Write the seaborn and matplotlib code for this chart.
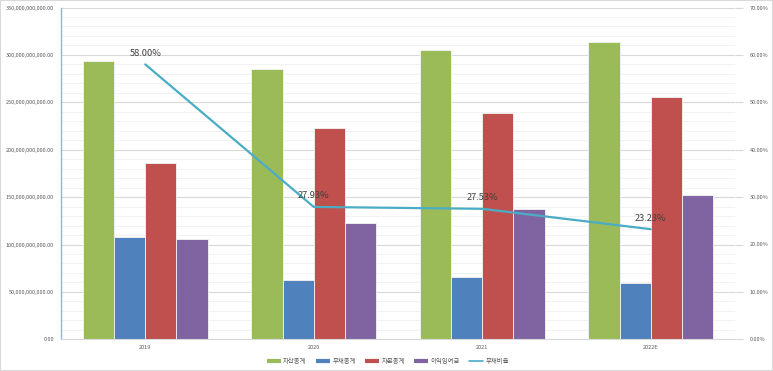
import pandas as pd
import matplotlib.pyplot as plt
import seaborn as sns
from matplotlib.ticker import FuncFormatter, MultipleLocator
from matplotlib.lines import Line2D
from matplotlib.patches import Rectangle

# Financial summary (KRW)
years = ['2019', '2020', '2021', '2022E']
items = ['자산총계', '부채총계', '자본총계', '이익잉여금']
total_assets = [293.5e9, 284.9e9, 304.7e9, 314.1e9]
total_liabilities = [107.8e9, 62.5e9, 65.7e9, 59.2e9]
total_equity = [185.5e9, 223.1e9, 238.9e9, 255.1e9]
retained_earnings = [105.7e9, 122.3e9, 137.0e9, 151.8e9]
debt_ratio = [58.00, 27.93, 27.53, 23.23]
ratio_label = '부채비율'

bar_colors = ['#9BBB59', '#4F81BD', '#C0504D', '#8064A2']
line_color = '#4BACC6'

rows = []
for item, vals in zip(items, [total_assets, total_liabilities, total_equity, retained_earnings]):
    for yr, v in zip(years, vals):
        rows.append({'year': yr, 'item': item, 'value': v})
df = pd.DataFrame(rows)

sns.set_theme(style='white')
plt.rcParams['font.family'] = ['Noto Sans CJK KR', 'DejaVu Sans']

fig = plt.figure(figsize=(7.73, 3.71), dpi=100)
ax = fig.add_axes([61 / 773, 1 - 339.3 / 371, (735 - 61) / 773, (339.3 - 7.5) / 371])

sns.barplot(data=df, x='year', y='value', hue='item', hue_order=items, order=years,
            palette=bar_colors, saturation=1, width=0.74, edgecolor='#F4F4F4',
            linewidth=0.6, legend=False, ax=ax)

ax.set_ylim(0, 350e9)
ax.yaxis.set_major_locator(MultipleLocator(50e9))
ax.yaxis.set_minor_locator(MultipleLocator(10e9))
ax.yaxis.set_major_formatter(FuncFormatter(lambda v, p: f'{v:,.2f}'))
ax.grid(axis='y', which='major', color='#D9D9D9', linewidth=0.8)
ax.grid(axis='y', which='minor', color='#F0F0F0', linewidth=0.6)
ax.set_axisbelow(True)
ax.set_xlabel('')
ax.set_ylabel('')
for s in ['top', 'right']:
    ax.spines[s].set_visible(False)
ax.spines['left'].set_color('#8EB4E3')
ax.spines['left'].set_linewidth(1)
ax.spines['bottom'].set_color('#D9D9D9')
ax.spines['bottom'].set_linewidth(0.8)
ax.tick_params(axis='y', which='both', length=0, labelsize=4.0, labelcolor='#595959', pad=5)
ax.tick_params(axis='x', length=0, labelsize=4.0, labelcolor='#595959', pad=4)

# debt ratio on secondary axis
ax2 = ax.twinx()
sns.lineplot(x=years, y=debt_ratio, sort=False, color=line_color, linewidth=1.6, ax=ax2)
ax2.set_ylim(0, 70)
ax2.yaxis.set_major_locator(MultipleLocator(10))
ax2.yaxis.set_major_formatter(FuncFormatter(lambda v, p: f'{v:.2f}%'))
ax2.tick_params(axis='y', length=5.8, width=0.8, color='#D9D9D9', direction='out',
                labelsize=4.0, labelcolor='#595959', pad=5)
ax2.set_ylabel('')
for s in ax2.spines.values():
    s.set_visible(False)

for i, v in enumerate(debt_ratio):
    ax2.annotate(f'{v:.2f}%', xy=(i, v), xytext=(0, 8), textcoords='offset points',
                 ha='center', va='center', fontsize=6.7, color='#404040')

ax.set_xlim(-0.5, 3.5)

handles = [Line2D([], [], color=c, linewidth=3, solid_capstyle='butt') for c in bar_colors]
handles.append(Line2D([], [], color=line_color, linewidth=1.2))
fig.legend(handles, items + [ratio_label], loc='center', bbox_to_anchor=(0.502, 0.027),
           ncol=5, frameon=False, fontsize=4.6, handlelength=2.2, handletextpad=0.3,
           columnspacing=1.5, labelcolor='#595959')

fig.patches.append(Rectangle((0, 0), 1, 1, transform=fig.transFigure, fill=False,
                             edgecolor='#D9D9D9', linewidth=1.5))

fig.savefig('out.png', dpi=100)
